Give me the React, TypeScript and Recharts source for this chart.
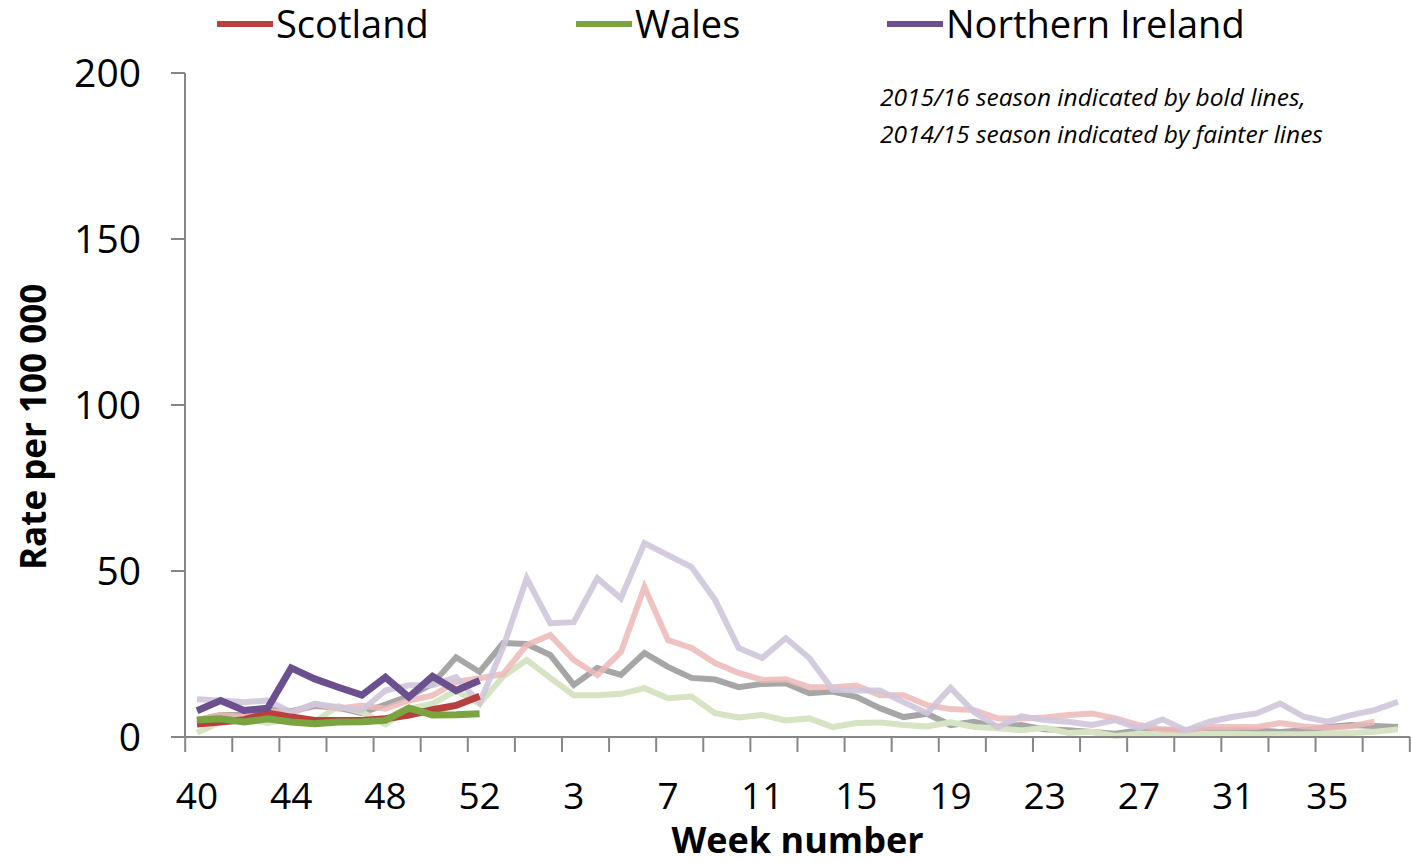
import React from "react";
import { LineChart, Line, XAxis, YAxis } from "recharts";

const weeks = [
  40, 41, 42, 43, 44, 45, 46, 47, 48, 49, 50, 51, 52, 53,
  1, 2, 3, 4, 5, 6, 7, 8, 9, 10, 11, 12, 13, 14, 15, 16, 17, 18, 19, 20,
  21, 22, 23, 24, 25, 26, 27, 28, 29, 30, 31, 32, 33, 34, 35, 36, 37, 38,
];

// 2015/16 season (bold)
const scotland = [3.9, 4.5, 5.2, 7.2, 6, 5, 5, 5, 5.5, 6.6, 8.2, 9.5, 12.3];
const wales = [5.1, 5.5, 4.5, 5.5, 4.5, 4, 4.5, 4.6, 5, 8.7, 6.6, 6.7, 7];
const northernIreland = [7.9, 11, 8, 8.7, 20.8, 17.5, 15, 12.6, 18, 12, 18.3, 14, 17];

// 2014/15 season (faint)
const scotlandPrev = [
  5, 6.6, 6, 7.8, 7, 10, 8.5, 9.5, 8.5, 11, 12.5, 16.6, 17.7, 19,
  27.7, 30.7, 23.2, 18.7, 25.6, 45.2, 29.2, 26.8, 22.3, 19.3, 17.2, 17.4, 15, 15, 15.5, 12.6,
  12.6, 9.6, 8.4, 8.1, 5.6, 5.6, 5.9, 6.6, 7.1, 5.6, 3.6, 2.3, 2, 3, 3, 3, 4.2, 3.2, 2.7, 3.2, 4.6, null,
];
const walesPrev = [
  1.3, 4.6, 5.6, 4.2, 5.6, 4.6, 9.3, 7.5, 3.8, 8.5, 10, 14, 10, 18.2,
  23.2, 17.8, 12.6, 12.6, 13, 14.7, 11.7, 12.2, 7.2, 5.9, 6.6, 5, 5.6, 3, 4.2, 4.4,
  3.6, 3.2, 4.4, 3, 2.6, 2, 2.8, 1.2, 1.6, 0.3, 1, 1, 0.8, 1, 1, 0.8, 0.8, 0.8, 1, 1.2, 1.6, 2.3,
];
const northernIrelandPrev = [
  11.4, 11, 10.5, 11, 7.5, 10, 9, 8, 14, 15.6, 15.6, 18, 10.3, 27,
  47.8, 34.3, 34.6, 47.8, 41.8, 58.4, 54.8, 51.2, 41.3, 26.8, 23.8, 29.8, 23.8, 14.2, 14, 14,
  10.5, 7.2, 14.8, 7.5, 3, 6.2, 5.1, 4.6, 3.6, 5.1, 2.6, 5.3, 2, 4.6, 6.1, 7.1, 10.1, 6.1, 4.6, 6.6, 8.1, 10.6,
];
const englandPrev = [
  5.1, 6.6, 6.6, 8.2, 7.8, 9.3, 8.8, 7.2, 9.8, 12.3, 16, 24, 19.6, 28.3,
  28, 24.7, 15.7, 20.8, 18.7, 25.3, 21.1, 17.8, 17.3, 15, 16, 16.2, 13.2, 13.7, 12.1, 8.7,
  6, 7, 3.6, 4.6, 3, 3.6, 2.3, 2, 1.5, 1, 2, 2, 2, 2, 2, 2, 1.5, 2, 3, 3.6, 3.3, 3,
];

const yTicks = [0, 50, 100, 150, 200];

const data = weeks.map((w, i) => ({
  week: String(w),
  scotland: scotland[i] ?? null,
  wales: wales[i] ?? null,
  ni: northernIreland[i] ?? null,
  scotlandPrev: scotlandPrev[i] ?? null,
  walesPrev: walesPrev[i] ?? null,
  niPrev: northernIrelandPrev[i] ?? null,
  englandPrev: englandPrev[i] ?? null,
}));

const FONT = "'Open Sans', 'Liberation Sans', Arial, sans-serif";
const AXIS = "#868686";

function WeekTick(props: any) {
  const { x, y, index, payload } = props;
  const half = 11.8;
  return (
    <g>
      {index % 2 === 0 && (
        <line x1={x - half} x2={x - half} y1={y - 8} y2={y + 7} stroke={AXIS} strokeWidth={2} />
      )}
      {index === weeks.length - 1 && (
        <line x1={x + half} x2={x + half} y1={y - 8} y2={y + 7} stroke={AXIS} strokeWidth={2} />
      )}
      {index % 4 === 0 && (
        <text x={x} y={y + 64} textAnchor="middle" fontSize={37} fill="#000" fontFamily={FONT}>
          {payload.value}
        </text>
      )}
    </g>
  );
}

const legendItems = [
  { value: "Scotland", color: "#B7403F" },
  { value: "Wales", color: "#7AA43F" },
  { value: "Northern Ireland", color: "#6B4F8F" },
];
const legendX = [217, 576, 887];

export default function App() {
  return (
    <div style={{ position: "absolute", left: 0, top: 0, width: 1412, height: 863, background: "#fff" }}>
      <LineChart
        width={1412}
        height={863}
        data={data}
        margin={{ top: 73, right: 2, bottom: 0, left: 0 }}
      >
        <XAxis
          dataKey="week"
          interval={0}
          height={126}
          tick={<WeekTick />}
          tickLine={false}
          axisLine={{ stroke: AXIS, strokeWidth: 2 }}
          padding={{ left: 12, right: 12 }}
          label={{ value: "Week number", position: "insideBottom", offset: 0, dy: -10, dx: 0, fontSize: 36, fontWeight: "bold", fill: "#000", fontFamily: FONT }}
        />
        <YAxis
          width={185}
          domain={[0, 200]}
          ticks={yTicks}
          tickSize={14}
          tickMargin={30}
          tickLine={{ stroke: AXIS, strokeWidth: 2 }}
          axisLine={{ stroke: AXIS, strokeWidth: 2 }}
          tick={{ fontSize: 39, fill: "#000", fontFamily: FONT }}
          label={{ value: "Rate per 100 000", angle: -90, position: "insideLeft", offset: 34, dy: 165, fontSize: 35, fontWeight: "bold", fill: "#000", fontFamily: FONT }}
        />
        <Line dataKey="englandPrev" stroke="#A6A6A6" strokeWidth={6} dot={false} isAnimationActive={false} />
        <Line dataKey="walesPrev" stroke="#D6E4C3" strokeWidth={6} dot={false} isAnimationActive={false} />
        <Line dataKey="scotlandPrev" stroke="#EDB9B8" strokeOpacity={0.85} strokeWidth={6} dot={false} isAnimationActive={false} />
        <Line dataKey="niPrev" stroke="#CFC6DA" strokeOpacity={0.9} strokeWidth={6} dot={false} isAnimationActive={false} />
        <Line dataKey="scotland" stroke="#B7403F" strokeWidth={7} dot={false} isAnimationActive={false} />
        <Line dataKey="wales" stroke="#7AA43F" strokeWidth={7} dot={false} isAnimationActive={false} />
        <Line dataKey="ni" stroke="#6B4F8F" strokeWidth={7} dot={false} isAnimationActive={false} />
      </LineChart>
      <svg width={1412} height={160} style={{ position: "absolute", left: 0, top: 0 }}>
        {legendItems.map((it, i) => (
          <g key={it.value}>
            <line x1={legendX[i]} x2={legendX[i] + 56} y1={24} y2={24} stroke={it.color} strokeWidth={6} />
            <text x={legendX[i] + 59} y={38} fontSize={38} fontFamily={FONT} fill="#000">
              {it.value}
            </text>
          </g>
        ))}
        <text x={880} y={106} fontSize={24.5} fontStyle="italic" fontFamily={FONT} fill="#000">
          2015/16 season indicated by bold lines,
        </text>
        <text x={880} y={143} fontSize={24.5} fontStyle="italic" fontFamily={FONT} fill="#000">
          2014/15 season indicated by fainter lines
        </text>
      </svg>
    </div>
  );
}
